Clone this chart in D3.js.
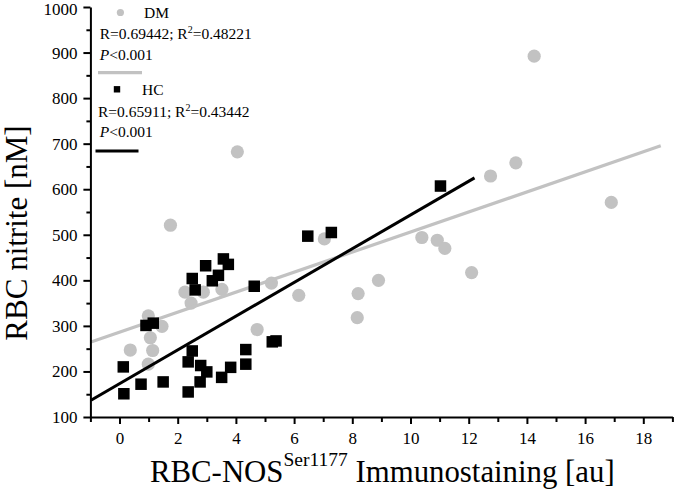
<!DOCTYPE html>
<html>
<head>
<meta charset="utf-8">
<script src="https://cdn.jsdelivr.net/npm/d3@7"></script>
<style>
  html, body { margin: 0; padding: 0; background: #fff; }
  svg { display: block; font-family: "Liberation Serif", "Times New Roman", serif; }
</style>
</head>
<body>
<svg id="chart" width="674" height="491"></svg>
<script>
// ---- data ----
const dmX = [14.25, 4.05, 1.75, 13.62, 12.75, 16.9, 7.04, 10.39, 10.92, 11.18, 12.1, 8.9, 8.2, 8.17, 6.16, 5.22, 4.73, 3.52, 2.88, 2.25, 2.46, 0.99, 1.46, 1.06, 1.14, 0.37, 0.99];
const dmY = [892, 682, 521, 658, 629, 571, 491, 494, 488, 470, 417, 400, 371, 318, 367, 394, 292, 380, 374, 374, 350, 322, 299, 274, 246, 247, 216];

const hcX = [11.03, 6.47, 7.28, 3.57, 3.74, 2.96, 3.4, 3.19, 2.5, 2.6, 4.63, 0.91, 1.16, 0.13, 0.15, 0.74, 1.5, 2.36, 2.5, 2.36, 2.79, 3.0, 2.77, 3.51, 3.82, 4.34, 4.34, 5.25, 5.38];
const hcY = [607, 497, 505, 447, 435, 432, 411, 399, 404, 379, 387, 301, 306, 210, 151, 172, 177, 155, 245, 221, 213, 199, 177, 187, 209, 216, 248, 265, 267];

// fitted lines: [x start, x end], intercept, slope
const dmFitRange = [-0.98, 18.6];
const dmFit = { intercept: 286, slope: 22.0 };
const hcFitRange = [-0.98, 12.2];
const hcFit = { intercept: 173, slope: 37.05 };

const xMajorTicks = [0, 2, 4, 6, 8, 10, 12, 14, 16, 18];
const xMinorTicks = [-1, 1, 3, 5, 7, 9, 11, 13, 15, 17, 19];
const yMajorTicks = [100, 200, 300, 400, 500, 600, 700, 800, 900, 1000];
const yMinorTicks = [150, 250, 350, 450, 550, 650, 750, 850, 950];

const legendDM = { name: "DM", r: "R=0.69442; R", r2: "=0.48221", p: "<0.001" };
const legendHC = { name: "HC", r: "R=0.65911; R", r2: "=0.43442", p: "<0.001" };

// ---- drawing ----
const svg = d3.select("#chart");
const grey = "#c2c2c2";

const x = d3.scaleLinear().domain([-1, 19]).range([90.4, 672.4]);
const y = d3.scaleLinear().domain([100, 1000]).range([417, 7]);

const line = d3.line().x(d => x(d[0])).y(d => y(d[1]));
function fitPts(range, f) { return range.map(v => [v, f.intercept + f.slope * v]); }

// DM points (behind)
svg.append("g").selectAll("circle").data(dmX.map((v, i) => [v, dmY[i]]))
  .enter().append("circle")
  .attr("cx", d => x(d[0])).attr("cy", d => y(d[1])).attr("r", 6.6)
  .attr("fill", grey);

svg.append("path").datum(fitPts(dmFitRange, dmFit)).attr("d", line)
  .attr("stroke", grey).attr("stroke-width", 3.2).attr("fill", "none");

// HC points
const sq = 11.5;
svg.append("g").selectAll("rect").data(hcX.map((v, i) => [v, hcY[i]]))
  .enter().append("rect")
  .attr("x", d => x(d[0]) - sq / 2).attr("y", d => y(d[1]) - sq / 2)
  .attr("width", sq).attr("height", sq).attr("fill", "#000");

svg.append("path").datum(fitPts(hcFitRange, hcFit)).attr("d", line)
  .attr("stroke", "#000").attr("stroke-width", 3).attr("fill", "none");

// axes
function styleAxis(g) {
  g.select(".domain").attr("stroke", "#000").attr("stroke-width", 2);
  g.selectAll(".tick line").attr("stroke", "#000").attr("stroke-width", 2);
  g.selectAll(".tick text").attr("font-family", "Liberation Serif, serif").attr("font-size", 17).attr("fill", "#000");
}
const xAxisG = svg.append("g").attr("transform", `translate(0,${y(100)})`)
  .call(d3.axisBottom(x).tickValues(xMajorTicks).tickSize(7).tickSizeOuter(0).tickPadding(8).tickFormat(d3.format("d")));
styleAxis(xAxisG);
const xMinorG = svg.append("g").attr("transform", `translate(0,${y(100)})`)
  .call(d3.axisBottom(x).tickValues(xMinorTicks).tickSize(5).tickSizeOuter(0).tickFormat(""));
styleAxis(xMinorG);
xMinorG.select(".domain").remove();

const yAxisG = svg.append("g").attr("transform", `translate(${x(-1)},0)`)
  .call(d3.axisLeft(y).tickValues(yMajorTicks).tickSize(7).tickSizeOuter(0).tickPadding(6).tickFormat(d3.format("d")));
styleAxis(yAxisG);
yAxisG.selectAll(".tick text").filter(d => d === 1000).attr("dy", "0.42em");
const yMinorG = svg.append("g").attr("transform", `translate(${x(-1)},0)`)
  .call(d3.axisLeft(y).tickValues(yMinorTicks).tickSize(4).tickSizeOuter(0).tickFormat(""));
styleAxis(yMinorG);
yMinorG.select(".domain").remove();

// axis titles
svg.append("text")
  .attr("transform", "translate(27,233) rotate(-90)")
  .attr("text-anchor", "middle").attr("font-size", 31).attr("fill", "#000")
  .text("RBC nitrite [nM]");

const xt = svg.append("text").attr("x", 150).attr("y", 482)
  .attr("font-size", 30.8).attr("fill", "#000");
xt.append("tspan").text("RBC-NOS");
xt.append("tspan").attr("font-size", 19.5).attr("dy", -16).text("Ser1177");
xt.append("tspan").attr("dy", 16).text(" Immunostaining [au]");

// legend
const lg = svg.append("g").attr("font-size", 15.5).attr("fill", "#000");
lg.append("circle").attr("cx", 120.4).attr("cy", 12.5).attr("r", 3.6).attr("fill", grey);
lg.append("text").attr("x", 144).attr("y", 17.5).text(legendDM.name);
function rLine(yb, xs, leg) {
  const t = lg.append("text").attr("x", xs).attr("y", yb);
  t.append("tspan").text(leg.r);
  t.append("tspan").attr("font-size", 10).attr("dy", -6).text("2");
  t.append("tspan").attr("dy", 6).text(leg.r2);
}
function pLine(yb, xs, leg) {
  const t = lg.append("text").attr("x", xs).attr("y", yb);
  t.append("tspan").attr("font-style", "italic").text("P");
  t.append("tspan").text(leg.p);
}
rLine(39.3, 99.7, legendDM);
pLine(60, 99.7, legendDM);
lg.append("line").attr("x1", 98).attr("x2", 142).attr("y1", 72.7).attr("y2", 72.7)
  .attr("stroke", grey).attr("stroke-width", 3.2);

lg.append("rect").attr("x", 117 - 3.2).attr("y", 89.3 - 3.2).attr("width", 6.4).attr("height", 6.4).attr("fill", "#000");
lg.append("text").attr("x", 142).attr("y", 95).text(legendHC.name);
rLine(117.3, 98, legendHC);
pLine(137.3, 99.7, legendHC);
lg.append("line").attr("x1", 95.5).attr("x2", 138.5).attr("y1", 151).attr("y2", 151)
  .attr("stroke", "#000").attr("stroke-width", 3);
</script>
</body>
</html>
